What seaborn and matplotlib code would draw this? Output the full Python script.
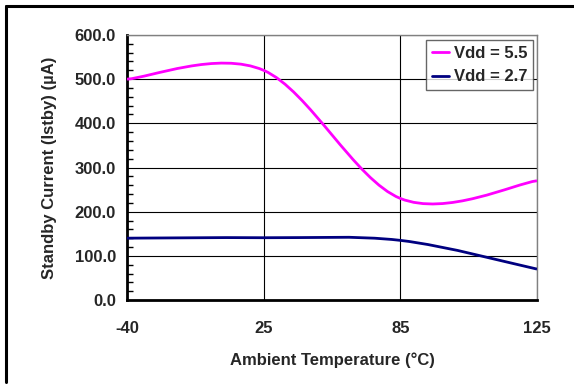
import numpy as np
import pandas as pd
import seaborn as sns
import matplotlib
matplotlib.use("Agg")
import matplotlib.pyplot as plt
from matplotlib.path import Path
from matplotlib.patches import PathPatch
from matplotlib.lines import Line2D
from matplotlib.ticker import MultipleLocator

temps = ["-40", "25", "85", "125"]
vdd55 = [500.0, 520.0, 230.0, 270.0]
vdd27 = [140.0, 141.0, 135.0, 70.0]
series_names = ["Vdd = 5.5", "Vdd = 2.7"]
colors = ["#FF00FF", "#000080"]

sns.set_style("white")
plt.rcParams['font.family'] = ['Liberation Sans', 'DejaVu Sans']
plt.rcParams['font.weight'] = 'bold'

fig = plt.figure(figsize=(5.74, 3.85), dpi=100)
ax = fig.add_axes([127/574, 1-300/385, (537-127)/574, (300-35)/385])

pos = list(range(len(temps)))
df = pd.DataFrame({
    "pos": pos * 2,
    "val": vdd55 + vdd27,
    "series": [series_names[0]] * 4 + [series_names[1]] * 4,
})
sns.lineplot(data=df, x="pos", y="val", hue="series", palette=colors,
             linewidth=0, legend=False, ax=ax)


def smooth_path(xs, ys):
    pts = np.column_stack([xs, ys]).astype(float)
    n = len(pts)
    verts = [pts[0]]
    codes = [Path.MOVETO]
    for i in range(n - 1):
        p0 = pts[i - 1] if i > 0 else pts[i]
        p1 = pts[i]
        p2 = pts[i + 1]
        p3 = pts[i + 2] if i + 2 < n else pts[i + 1]
        c1 = p1 + (p2 - p0) / 6.0
        c2 = p2 - (p3 - p1) / 6.0
        verts += [c1, c2, p2]
        codes += [Path.CURVE4] * 3
    return Path(verts, codes)


for ys, c in zip([vdd55, vdd27], colors):
    patch = PathPatch(smooth_path(pos, ys), facecolor="none", edgecolor=c,
                      linewidth=2, zorder=3, clip_on=True)
    ax.add_patch(patch)

ax.set_xlim(0, 3)
ax.set_ylim(0, 600)
ax.set_xticks(pos)
ax.set_xticklabels(temps, fontsize=12, fontweight="bold")
ax.yaxis.set_major_locator(MultipleLocator(100))
ax.yaxis.set_minor_locator(MultipleLocator(20))
ax.set_yticklabels([f"{v:.1f}" for v in ax.get_yticks()], fontsize=12, fontweight="bold")
ax.tick_params(axis="x", which="both", length=0, pad=15)
ax.tick_params(axis="y", which="major", length=0, pad=8)
ax.tick_params(axis="y", which="minor", length=4, direction="in", width=1, color="black", left=True)

ax.grid(True, axis="both", which="major", color="black", linewidth=0.8)
ax.set_axisbelow(True)

for s in ["left", "bottom"]:
    ax.spines[s].set_color("black")
    ax.spines[s].set_linewidth(2)
for s in ["top", "right"]:
    ax.spines[s].set_color("#808080")
    ax.spines[s].set_linewidth(1)

ax.set_xlabel("Ambient Temperature (°C)", fontsize=12, fontweight="bold", labelpad=12)
ax.set_ylabel("Standby Current (Istby) (µA)", fontsize=12, fontweight="bold", labelpad=13)

handles = [Line2D([0], [0], color=c, lw=2) for c in colors]
leg = ax.legend(handles, series_names, loc="upper right", bbox_to_anchor=(0.99, 0.98),
                frameon=True, fancybox=False,
                prop={"weight": "bold", "size": 12}, handlelength=1.0, handletextpad=0.3,
                borderpad=0.35, labelspacing=0.5, borderaxespad=0)
leg.get_frame().set_edgecolor("#404040")
leg.get_frame().set_linewidth(1)

# outer frame: only left and top edges are visible
fig.add_artist(Line2D([6/574, 6/574], [1-6/385, 1-382/385], transform=fig.transFigure,
                      color="black", linewidth=2.2))
fig.add_artist(Line2D([6/574, 1.0], [1-6/385, 1-6/385], transform=fig.transFigure,
                      color="black", linewidth=2.2))

fig.savefig("out.png", dpi=100)
